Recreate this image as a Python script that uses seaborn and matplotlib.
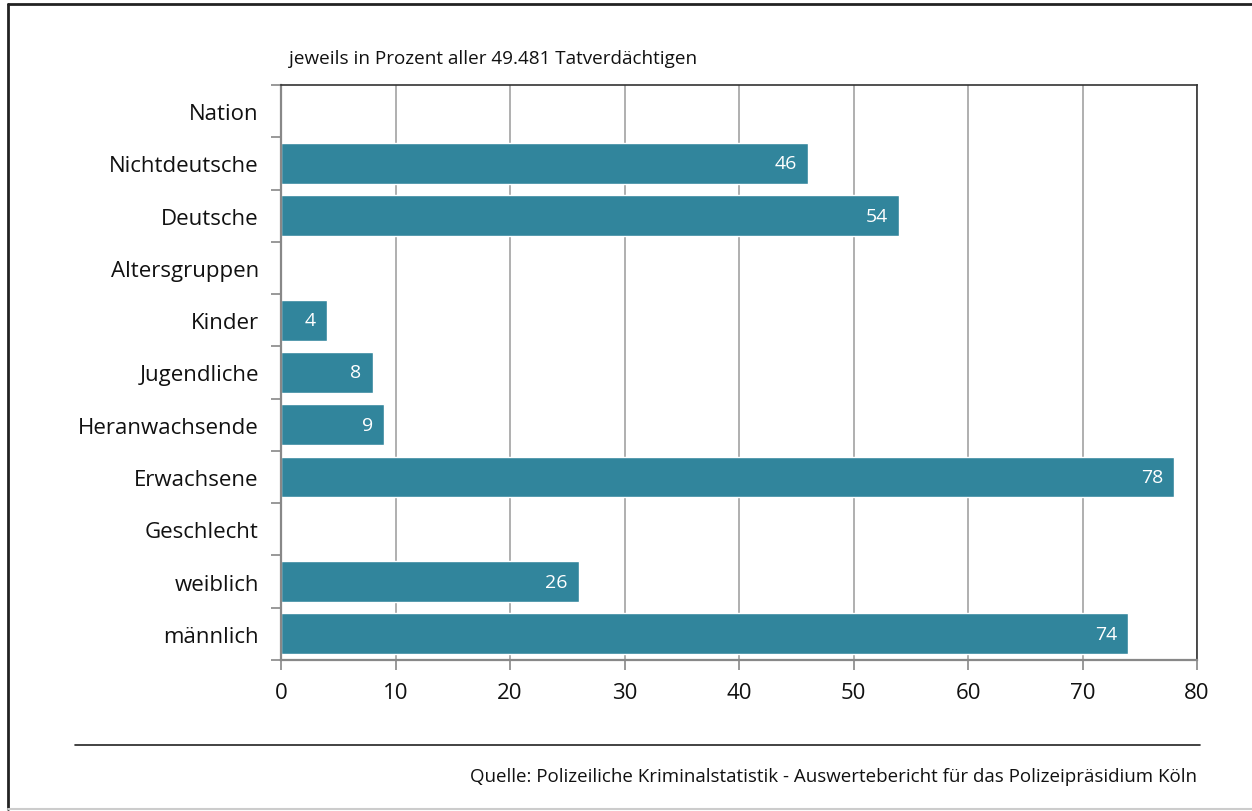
import matplotlib
matplotlib.use("Agg")
import matplotlib.pyplot as plt
from matplotlib.lines import Line2D
import seaborn as sns
import numpy as np
import pandas as pd

categories = ["Nation", "Nichtdeutsche", "Deutsche", "Altersgruppen", "Kinder",
              "Jugendliche", "Heranwachsende", "Erwachsene", "Geschlecht",
              "weiblich", "männlich"]
values = [np.nan, 46, 54, np.nan, 4, 8, 9, 78, np.nan, 26, 74]
x_ticks = [0, 10, 20, 30, 40, 50, 60, 70, 80]
subtitle = "jeweils in Prozent aller 49.481 Tatverdächtigen"
source = "Quelle: Polizeiliche Kriminalstatistik - Auswertebericht für das Polizeipräsidium Köln"

sns.set_style("white")
plt.rcParams["font.family"] = ["Open Sans", "DejaVu Sans"]

W, H = 1252, 812
fig = plt.figure(figsize=(W / 100, H / 100), dpi=100)
ax = fig.add_axes([281 / W, 1 - 661 / H, (1197 - 281) / W, (661 - 86) / H])

df = pd.DataFrame({"cat": categories, "val": values})
sns.barplot(data=df, y="cat", x="val", orient="h", color="#31859C",
            saturation=1, width=0.78, ax=ax, order=categories)

ax.set_xlim(0, 80)
ax.set_ylim(len(categories) - 0.5, -0.5)
ax.set_xticks(x_ticks)
ax.set_xticklabels([str(t) for t in x_ticks], fontsize=16, color="#111111")
ax.set_xlabel("")
ax.set_ylabel("")

# y tick labels at category centres, tick marks at boundaries
ax.set_yticks(np.arange(len(categories)))
ax.set_yticklabels(categories, fontsize=16, color="#111111")
ax.tick_params(axis="y", which="major", length=0, pad=16)
ax.set_yticks(np.arange(-0.5, len(categories)), minor=True)
ax.tick_params(axis="y", which="minor", length=7, width=1.2, color="#888888", direction="out", left=True)
ax.tick_params(axis="x", which="major", length=7, width=1.2, color="#888888", direction="out", bottom=True, pad=9)

ax.grid(axis="x", color="#9a9a9a", linewidth=1.1)
ax.grid(axis="y", visible=False)
ax.set_axisbelow(True)

for s in ["left", "bottom"]:
    ax.spines[s].set_color("#888888")
    ax.spines[s].set_linewidth(1.6)
for s in ["top", "right"]:
    ax.spines[s].set_color("#333333")
    ax.spines[s].set_linewidth(1.2)

for i, v in enumerate(values):
    if not np.isnan(v):
        ax.annotate(f"{v:g}", xy=(v, i), xytext=(-8, 0), textcoords="offset points",
                    ha="right", va="center", color="white", fontsize=14)

fig.text(289 / W, 1 - 59 / H, subtitle, ha="left", va="center", fontsize=13.6, color="#111111")
fig.text(1197 / W, 1 - 777 / H, source, ha="right", va="center", fontsize=13.5, color="#111111")

fig.add_artist(Line2D([75 / W, 1200 / W], [1 - 746 / H, 1 - 746 / H], color="#222222", linewidth=1.2))
# frame
fig.add_artist(Line2D([8 / W, 1.0], [1 - 5 / H, 1 - 5 / H], color="#222222", linewidth=2))
fig.add_artist(Line2D([8 / W, 8 / W], [1 - 5 / H, 1 - 810 / H], color="#222222", linewidth=2))
fig.add_artist(Line2D([8 / W, 1.0], [1 - 810 / H, 1 - 810 / H], color="#cccccc", linewidth=1.5))

fig.savefig("out.png", dpi=100)
